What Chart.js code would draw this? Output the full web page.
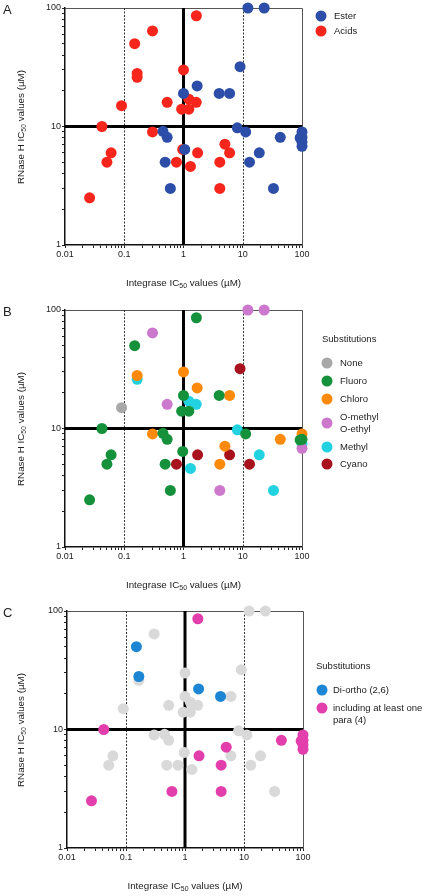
<!DOCTYPE html>
<html>
<head>
<meta charset="utf-8">
<script src="https://cdn.jsdelivr.net/npm/chart.js@4.4.1/dist/chart.umd.min.js"></script>
<style>
body { margin: 0; background: #fff; font-family: "Liberation Sans", Arial, sans-serif; color: #222; }
#page { position: relative; width: 429px; height: 896px; overflow: hidden; }
canvas { position: absolute; left: 0; }
.letter { position: absolute; left: 3px; font-size: 13px; line-height: 13px; }
.xt { position: absolute; font-size: 9.8px; white-space: nowrap; transform: translate(-50%, -50%); }
.yt { position: absolute; font-size: 9.8px; white-space: nowrap; transform: translate(-50%, -50%) rotate(-90deg); }
sub { font-size: 70%; vertical-align: -2px; line-height: 0; }
.lg { position: absolute; font-size: 9.5px; line-height: 12px; white-space: nowrap; }
.dot { position: absolute; width: 11px; height: 11px; border-radius: 50%; transform: translate(-50%, -50%); }
</style>
</head>
<body>
<div id="page">
  <canvas id="cA" width="429" height="300" style="top:0px"></canvas>
  <canvas id="cB" width="429" height="300" style="top:302px"></canvas>
  <canvas id="cC" width="429" height="300" style="top:603px"></canvas>
</div>
<script>
// axis ticks and reference lines
const xTicks = [0.01, 0.1, 1, 10, 100];
const xTickLabels = ['0.01', '0.1', '1', '10', '100'];
const yTicks = [1, 10, 100];
const yTickLabels = ['1', '10', '100'];
const cutX = [1];
const cutY = [10];
const dashX = [0.1, 10];

// panel A
const esterX = [1, 1.7, 0.45, 0.53, 12.2, 23, 9, 4, 6, 8.1, 11.2, 43, 100, 100, 100, 100, 93, 0.49, 0.6, 1.05, 13, 19, 33];
const esterY = [19, 22, 9.1, 8.1, 100, 100, 32, 19, 19, 9.75, 9, 8.1, 9, 8.1, 7.4, 6.8, 8, 5, 3, 6.4, 5, 6, 3];
const acidsX = [1.65, 0.3, 0.15, 0.165, 0.165, 1, 0.09, 0.53, 1.23, 1.64, 0.93, 1.23, 0.042, 0.3, 0.026, 0.051, 0.06, 0.76, 0.97, 1.31, 1.73, 4.1, 5, 6, 4.1];
const acidsY = [86, 64, 50, 28, 26, 30, 15, 16, 17, 16, 14, 14, 10, 9, 2.5, 5, 6, 5, 6.4, 4.6, 6, 5, 7.1, 6, 3];

// panel B
const noneX = [0.09];
const noneY = [15];
const fluoroX = [1.65, 0.15, 1, 0.93, 1.23, 0.042, 0.45, 0.53, 4, 11.2, 100, 93, 0.026, 0.051, 0.06, 0.49, 0.97, 0.6];
const fluoroY = [86, 50, 19, 14, 14, 10, 9.1, 8.1, 19, 9, 8.1, 8, 2.5, 5, 6, 5, 6.4, 3];
const chloroX = [0.165, 1, 1.7, 0.3, 6, 43, 100, 4.1, 5];
const chloroY = [28, 30, 22, 9, 19, 8.1, 9, 5, 7.1];
const oalkylX = [0.3, 0.53, 12.2, 23, 100, 4.1];
const oalkylY = [64, 16, 100, 100, 6.8, 3];
const methylX = [0.165, 1.23, 1.64, 8.1, 100, 1.31, 19, 33];
const methylY = [26, 17, 16, 9.75, 7.4, 4.6, 6, 3];
const cyanoX = [9, 0.76, 1.73, 6, 13];
const cyanoY = [32, 5, 6, 6, 5];

// panel C
const diorthoX = [0.15, 0.165, 1.7, 4];
const diorthoY = [50, 28, 22, 19];
const paraX = [1.65, 0.042, 43, 100, 100, 100, 100, 93, 0.026, 1.73, 0.6, 4.1, 5, 4.1];
const paraY = [86, 10, 8.1, 9, 8.1, 7.4, 6.8, 8, 2.5, 6, 3, 5, 7.1, 3];
const otherX = [0.3, 0.165, 1, 0.09, 0.53, 1, 1.23, 1.64, 0.93, 1.23, 0.3, 0.45, 0.53, 12.2, 23, 9, 6, 8.1, 11.2, 0.051, 0.06, 0.49, 0.76, 0.97, 1.31, 6, 13, 19, 33];
const otherY = [64, 26, 30, 15, 16, 19, 17, 16, 14, 14, 9, 9.1, 8.1, 100, 100, 32, 19, 9.75, 9, 5, 6, 5, 5, 6.4, 4.6, 6, 5, 6, 3];

const pts = (xs, ys) => xs.map((x, i) => ({ x: x, y: ys[i] }));

function nearIn(list, v) {
    return list.findIndex(t => Math.abs(t - v) / t < 1e-6);
}

// drop the 1.5 / 15 ticks the log scale adds, keep 1..9 per decade
function keepWhole(scale) {
    scale.ticks = scale.ticks.filter(t => {
        const m = t.value / Math.pow(10, Math.floor(Math.log10(t.value) + 1e-9));
        return Math.abs(m - Math.round(m)) < 1e-6;
    });
}

const refLines = {
    id: 'refLines',
    beforeDatasetsDraw(chart) {
        const { ctx, chartArea: a, scales: { x, y } } = chart;
        ctx.save();
        ctx.strokeStyle = '#555';
        ctx.lineWidth = 1;
        ctx.beginPath();
        ctx.moveTo(a.left, a.top + 0.5);
        ctx.lineTo(a.right + 0.5, a.top + 0.5);
        ctx.lineTo(a.right + 0.5, a.bottom);
        ctx.stroke();

        ctx.setLineDash([2, 1.5]);
        ctx.strokeStyle = '#333';
        dashX.forEach(v => {
            const px = Math.round(x.getPixelForValue(v)) + 0.5;
            ctx.beginPath();
            ctx.moveTo(px, a.top);
            ctx.lineTo(px, a.bottom);
            ctx.stroke();
        });
        ctx.setLineDash([]);

        ctx.strokeStyle = '#000';
        ctx.lineWidth = 3;
        cutX.forEach(v => {
            const px = x.getPixelForValue(v);
            ctx.beginPath();
            ctx.moveTo(px, a.top);
            ctx.lineTo(px, a.bottom);
            ctx.stroke();
        });
        cutY.forEach(v => {
            const py = y.getPixelForValue(v);
            ctx.beginPath();
            ctx.moveTo(a.left, py);
            ctx.lineTo(a.right, py);
            ctx.stroke();
        });
        ctx.restore();
    }
};

const tickFont = { family: 'Liberation Sans', size: 9 };

function axis(min, max, ticks, labels, fit) {
    return {
        type: 'logarithmic',
        min: min,
        max: max,
        afterFit: fit,
        afterBuildTicks: keepWhole,
        grid: { drawOnChartArea: false, drawTicks: true, tickLength: 3, tickColor: '#222', tickWidth: 1 },
        border: { color: '#111', width: 1.5 },
        ticks: {
            autoSkip: false,
            maxRotation: 0,
            padding: 1,
            color: '#222',
            font: tickFont,
            callback: function (v) {
                const i = nearIn(ticks, v);
                return i >= 0 ? labels[i] : '';
            }
        }
    };
}

function CreateChart(id, sets, padL, padR) {
    return new Chart(document.getElementById(id), {
        type: 'scatter',
        data: {
            datasets: sets.map(s => ({
                label: s.label,
                data: pts(s.x, s.y),
                backgroundColor: s.color,
                borderWidth: 0,
                pointRadius: 5.5,
                pointHoverRadius: 5.5,
                clip: false
            }))
        },
        options: {
            responsive: false,
            animation: false,
            devicePixelRatio: 1,
            layout: { padding: { left: padL, right: padR, top: 8, bottom: 37 } },
            plugins: { legend: { display: false }, tooltip: { enabled: false } },
            scales: {
                x: axis(xTicks[0], xTicks[xTicks.length - 1], xTicks, xTickLabels, s => { s.height = 18; }),
                y: axis(yTicks[0], yTicks[yTicks.length - 1], yTicks, yTickLabels, s => { s.width = 40; })
            }
        },
        plugins: [refLines]
    });
}

const setsA = [
    { label: ['Ester'], x: esterX, y: esterY, color: '#2d4ea8' },
    { label: ['Acids'], x: acidsX, y: acidsY, color: '#f7261c' }
];
const setsB = [
    { label: ['None'], x: noneX, y: noneY, color: '#a8a8a8' },
    { label: ['Fluoro'], x: fluoroX, y: fluoroY, color: '#15913b' },
    { label: ['Chloro'], x: chloroX, y: chloroY, color: '#ff8a0a' },
    { label: ['O-methyl', 'O-ethyl'], x: oalkylX, y: oalkylY, color: '#cc78cc' },
    { label: ['Methyl'], x: methylX, y: methylY, color: '#22d2e0' },
    { label: ['Cyano'], x: cyanoX, y: cyanoY, color: '#a8121c' }
];
const setsC = [
    { label: ['Di-ortho (2,6)'], x: diorthoX, y: diorthoY, color: '#1c86d4' },
    { label: ['including at least one', 'para (4)'], x: paraX, y: paraY, color: '#e33fac' },
    { label: ['other'], x: otherX, y: otherY, color: '#d9d9d9', hide: true }
];

const chartA = CreateChart('cA', setsA, 25, 127);
const chartB = CreateChart('cB', setsB, 25, 127);
const chartC = CreateChart('cC', setsC, 27, 126);

// html text: panel letters, axis titles with subscripts, legends
const page = document.getElementById('page');
function put(cls, html, left, top) {
    const d = document.createElement('div');
    d.className = cls;
    d.innerHTML = html;
    d.style.left = left + 'px';
    d.style.top = top + 'px';
    page.appendChild(d);
    return d;
}

function decorate(chart, top, letter, legend) {
    const a = chart.chartArea;
    put('letter', letter, 3, top + 3);
    put('xt', 'Integrase IC<sub>50</sub> values (\u00b5M)', (a.left + a.right) / 2, top + 282);
    put('yt', 'RNase H IC<sub>50</sub> values (\u00b5M)', 20, top + (a.top + a.bottom) / 2);
    if (legend.title) put('lg', legend.title, legend.titleX, top + legend.titleY - 6);
    let i = 0;
    chart.data.datasets.forEach((ds, k) => {
        const s = legend.sets[k];
        if (s.hide) return;
        const cy = top + legend.rows[i];
        const dot = put('dot', '', legend.dotX, cy + (legend.dotShift ? legend.dotShift(s.label) : 0));
        dot.style.background = s.color;
        put('lg', s.label.join('<br>'), legend.textX, cy - 6);
        i++;
    });
}

decorate(chartA, 0, 'A', { sets: setsA, rows: [16, 31], dotX: 321, textX: 334 });
decorate(chartB, 302, 'B', {
    sets: setsB, title: 'Substitutions', titleX: 322, titleY: 37,
    rows: [61, 79, 97, 115, 144.5, 162],
    dotX: 327, textX: 340, dotShift: l => (l.length > 1 ? 6 : 0)
});
decorate(chartC, 603, 'C', {
    sets: setsC, title: 'Substitutions', titleX: 316, titleY: 63,
    rows: [87, 104.5], dotX: 322, textX: 333
});
</script>
</body>
</html>
